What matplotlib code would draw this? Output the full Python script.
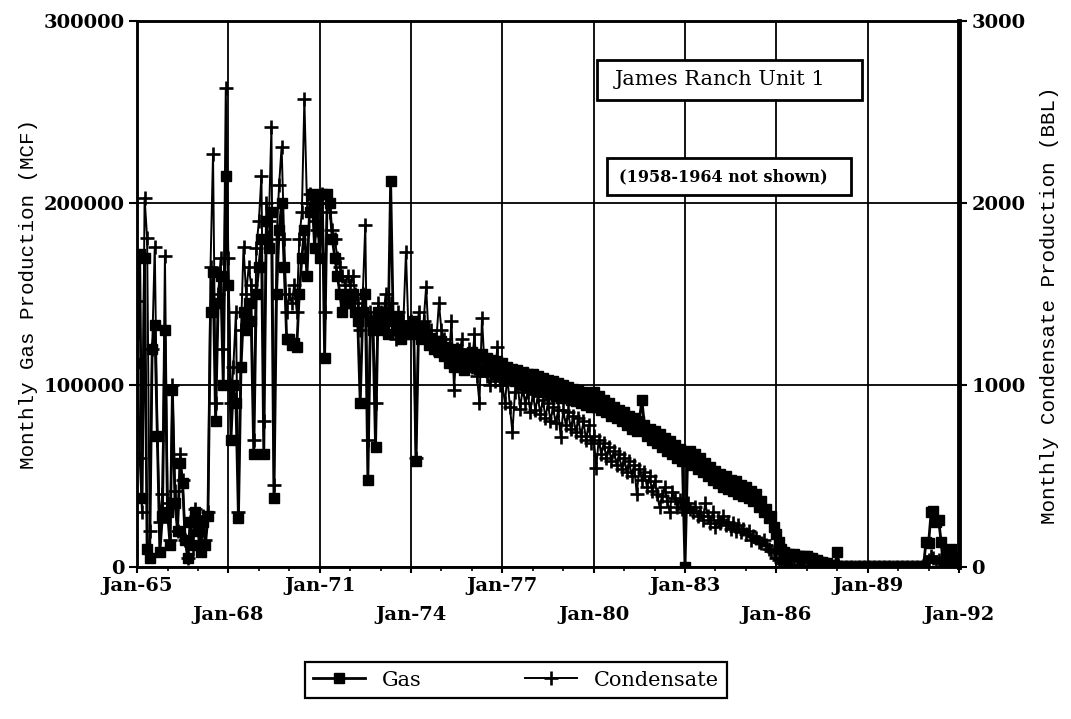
import numpy as np
import pandas as pd
import matplotlib
matplotlib.use("Agg")
import matplotlib.pyplot as plt
from matplotlib.patches import Rectangle
import matplotlib.dates as mdates

# ---------------- data (monthly, Jan-1965 .. Dec-1991) ----------------
months = pd.date_range("1965-01-01", "1991-12-01", freq="MS")

gas_mcf = [
    112000, 172000, 38000, 170000, 10000, 5000, 120000, 133000, 72000, 8000, 28000, 130000,   # 1965
    30000, 12000, 97000, 35000, 20000, 57000, 46000, 15000, 5000, 25000, 12000, 30000,        # 1966
    20000, 8000, 25000, 12000, 28000, 140000, 162000, 80000, 145000, 160000, 100000, 215000,  # 1967
    155000, 70000, 100000, 90000, 27000, 110000, 140000, 130000, 145000, 135000, 62000, 150000,  # 1968
    165000, 180000, 62000, 190000, 175000, 195000, 38000, 150000, 185000, 200000, 165000, 125000,  # 1969
    125000, 122000, 123000, 121000, 150000, 170000, 185000, 160000, 195000, 205000, 175000, 200000,  # 1970
    170000, 205000, 115000, 205000, 200000, 180000, 170000, 160000, 150000, 140000, 145000, 150000,  # 1971
    145000, 150000, 140000, 135000, 90000, 140000, 150000, 48000, 135000, 130000, 66000, 140000,  # 1972
    135000, 130000, 140000, 128000, 212000, 135000, 130000, 138000, 125000, 132000, 128000, 130000,  # 1973
    128000, 135000, 58000, 130000, 125000, 132000, 128000, 122000, 126000, 120000, 124000, 118000,  # 1974
    124000, 116000, 121000, 112000, 118000, 110000, 120000, 113000, 117000, 108000, 116000, 111000,  # 1975
    118000, 110000, 116000, 109000, 117000, 108000, 115000, 107000, 114000, 106000, 113000, 105000,  # 1976
    112000, 104000, 110000, 103000, 109000, 102000, 108000, 101000, 107000, 100000, 106000, 99000,   # 1977
    106000, 98000, 105000, 97000, 104000, 96000, 103000, 95000, 102000, 94000, 101000, 93000,        # 1978
    100000, 93000, 99000, 92000, 98000, 91000, 97000, 90000, 96000, 89000, 95000, 88000,             # 1979
    96000, 88000, 94000, 86000, 92000, 85000, 90000, 83000, 88000, 82000, 86000, 80000,              # 1980
    85000, 78000, 83000, 76000, 82000, 75000, 80000, 92000, 78000, 72000, 76000, 70000,              # 1981
    75000, 68000, 73000, 66000, 71000, 64000, 69000, 62000, 67000, 60000, 65000, 58000,              # 1982
    0, 60000, 64000, 56000, 62000, 54000, 60000, 52000, 57000, 50000, 55000, 48000,                  # 1983
    53000, 46000, 51000, 44000, 50000, 43000, 48000, 42000, 47000, 40000, 45000, 39000,              # 1984
    44000, 38000, 42000, 36000, 40000, 33000, 36000, 30000, 32000, 27000, 28000, 22000,              # 1985
    18000, 14000, 10000, 8000, 7000, 7000, 6000, 7000, 6000, 6000, 5000, 6000,                       # 1986
    6000, 5000, 5000, 4000, 4000, 3000, 3000, 2000, 2000, 1000, 1000, 0,                             # 1987
    8000, 0, 0, 0, 0, 0, 0, 0, 0, 0, 0, 0,                                                           # 1988
    0, 0, 0, 0, 0, 0, 0, 0, 0, 0, 0, 0,                                                              # 1989
    0, 0, 0, 0, 0, 0, 0, 0, 0, 0, 0, 14000,                                                          # 1990
    13000, 30000, 31000, 25000, 26000, 14000, 0, 8000, 6000, 10000, 5000, 3000,                      # 1991
]

condensate_bbl = [
    1460, 600, 300, 2030, 1810, 200, 1200, 1760, 700, 250, 400, 1710,     # 1965
    350, 150, 1000, 420, 200, 620, 480, 150, 50, 250, 100, 320,           # 1966
    250, 100, 280, 150, 300, 1650, 2270, 900, 1500, 1700, 1200, 2630,     # 1967
    1700, 900, 1100, 1400, 300, 1300, 1760, 1500, 1650, 1550, 700, 1750,  # 1968
    1900, 2150, 800, 2000, 1900, 2420, 450, 1800, 2100, 2310, 1800, 1400,  # 1969
    1500, 1450, 1550, 1400, 1800, 1950, 2570, 2000, 2050, 2000, 1900, 1850,  # 1970
    2000, 2050, 1400, 2000, 1950, 1850, 1800, 1700, 1650, 1600, 1550, 1600,  # 1971
    1550, 1600, 1500, 1450, 1300, 1500, 1880, 700, 1400, 1350, 900, 1450,  # 1972
    1400, 1350, 1500, 1300, 1450, 1350, 1250, 1400, 1300, 1350, 1730, 1300,  # 1973
    1350, 1300, 600, 1400, 1300, 1350, 1540, 1250, 1300, 1200, 1250, 1450,  # 1974
    1300, 1250, 1200, 1150, 1350, 975, 1200, 1150, 1250, 1100, 1150, 1200,  # 1975
    1100, 1280, 1050, 900, 1370, 1100, 1050, 1000, 1080, 1020, 1210, 1000,  # 1976
    1000, 900, 1050, 880, 740, 960, 1020, 870, 980, 900, 960, 850,         # 1977
    950, 860, 940, 840, 920, 820, 900, 800, 880, 790, 860, 715,            # 1978
    860, 780, 850, 760, 830, 740, 820, 720, 800, 700, 780, 680,            # 1979
    720, 545, 700, 620, 680, 600, 660, 580, 640, 560, 620, 540,            # 1980
    600, 520, 580, 500, 560, 400, 540, 480, 520, 440, 500, 420,            # 1981
    470, 400, 330, 390, 440, 360, 300, 410, 380, 330, 370, 320,            # 1982
    300, 350, 320, 300, 330, 280, 300, 260, 350, 280, 240, 300,            # 1983
    220, 260, 240, 280, 230, 250, 210, 240, 200, 230, 190, 210,            # 1984
    180, 200, 150, 170, 160, 140, 130, 150, 120, 100, 90, 80,              # 1985
    50, 40, 30, 20, 20, 10, 10, 10, 10, 5, 5, 5,                           # 1986
    5, 5, 0, 0, 0, 0, 0, 0, 0, 0, 0, 0,                                    # 1987
    0, 0, 0, 0, 0, 0, 0, 0, 0, 0, 0, 0,                                    # 1988
    0, 0, 0, 0, 0, 0, 0, 0, 0, 0, 0, 0,                                    # 1989
    0, 0, 0, 0, 0, 0, 0, 0, 0, 0, 0, 30,                                   # 1990
    40, 60, 50, 30, 40, 20, 0, 30, 20, 40, 60, 10,                         # 1991
]

tick_years = list(range(1965, 1993, 3))
tick_labels = ["Jan-65", "Jan-68", "Jan-71", "Jan-74", "Jan-77",
               "Jan-80", "Jan-83", "Jan-86", "Jan-89", "Jan-92"]
gas_ticks = [0, 100000, 200000, 300000]
cond_ticks = [0, 1000, 2000, 3000]

# ---------------- figure ----------------
fig = plt.figure(figsize=(10.71, 7.19), dpi=100)
ax = fig.add_axes([0.128, 0.2114, 0.7674, 0.7594])
ax2 = ax.twinx()

tick_font = dict(family="DejaVu Serif", weight="bold", size=14)
label_font = dict(family="Liberation Mono", size=15)

gas_line, = ax.plot(months, gas_mcf, color="black", lw=2.0, marker="s",
                    ms=7.5, mfc="black", mec="black", zorder=3)
cond_line, = ax2.plot(months, condensate_bbl, color="black", lw=1.4,
                      marker="+", ms=10, mew=1.9, zorder=3)

ax.set_xlim(pd.Timestamp("1965-01-01"), pd.Timestamp("1992-01-01"))
ax.set_ylim(0, 300000)
ax2.set_ylim(0, 3000)

tick_pos = mdates.date2num([pd.Timestamp(f"{y}-01-01") for y in tick_years])
ax.set_xticks(tick_pos)
ax.set_xticklabels([lbl if i % 2 == 0 else "" for i, lbl in enumerate(tick_labels)],
                   **tick_font)
ax.xaxis.set_minor_locator(mdates.YearLocator(1))

# second (staggered) row of date labels
sec = ax.secondary_xaxis("bottom")
sec.set_xticks(tick_pos[1::2])
sec.set_xticklabels(tick_labels[1::2], **tick_font)
sec.tick_params(axis="x", length=0, pad=28)
sec.spines["bottom"].set_visible(False)

ax.set_yticks(gas_ticks)
ax.set_yticklabels([str(v) for v in gas_ticks], **tick_font)
ax2.set_yticks(cond_ticks)
ax2.set_yticklabels([str(v) for v in cond_ticks], **tick_font)

ax.tick_params(axis="x", which="major", direction="out", length=4, width=1.5, pad=3)
ax.tick_params(axis="x", which="minor", direction="out", length=3, width=1.2)
ax.tick_params(axis="y", direction="out", length=6, width=1.5, pad=3)
ax2.tick_params(axis="y", direction="out", length=6, width=1.5, pad=3)

ax.grid(True, which="major", color="black", lw=1.3)
ax.set_axisbelow(True)

for sp in ax.spines.values():
    sp.set_linewidth(1.8)
for sp in ax2.spines.values():
    sp.set_linewidth(1.8)
ax2.spines["right"].set_linewidth(3.5)

ax.set_ylabel("Monthly Gas Production (MCF)", **label_font)
ax.yaxis.set_label_coords(-0.120, 0.5)
ax2.set_ylabel("Monthly Condensate Production (BBL)", **label_font)
ax2.yaxis.set_label_coords(1.098, 0.48)

# annotation boxes
ax2.add_patch(Rectangle((0.5596, 0.8553), 0.3224, 0.0733, transform=ax2.transAxes,
                        facecolor="white", edgecolor="black", lw=2, zorder=5))
ax2.text(0.709, 0.892, "James Ranch Unit 1", transform=ax2.transAxes,
         ha="center", va="center", family="DejaVu Serif", size=15, zorder=6)
ax2.add_patch(Rectangle((0.5718, 0.6813), 0.2968, 0.0678, transform=ax2.transAxes,
                        facecolor="white", edgecolor="black", lw=2, zorder=5))
ax2.text(0.713, 0.715, "(1958-1964 not shown)", transform=ax2.transAxes,
         ha="center", va="center", family="DejaVu Serif", weight="bold",
         size=11.5, zorder=6)

leg = fig.legend(handles=[gas_line, cond_line], labels=["Gas", "Condensate"],
                 loc="center", bbox_to_anchor=(0.2848, 0.0264, 0.394, 0.0556),
                 mode="expand", ncol=2, frameon=True, fancybox=False,
                 edgecolor="black", framealpha=1, borderaxespad=0,
                 handlelength=2.5, prop=dict(family="DejaVu Serif", size=15))
leg.get_frame().set_linewidth(1.6)

fig.savefig("out.png", dpi=100)
